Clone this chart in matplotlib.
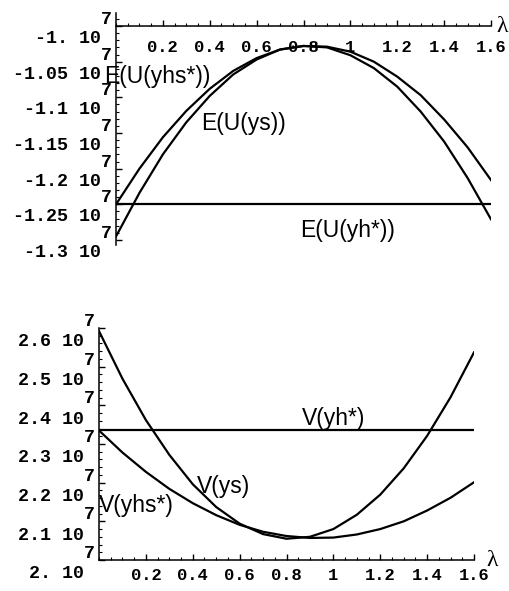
import numpy as np
import matplotlib.pyplot as plt
from matplotlib.ticker import MultipleLocator

# lambda grid shared by both panels
lam = [0.0, 0.1, 0.2, 0.3, 0.4, 0.5, 0.6, 0.7, 0.8,
       0.9, 1.0, 1.1, 1.2, 1.3, 1.4, 1.5, 1.6]

# expected utility, in units of 10^7
eu_ys = [-1.295, -1.234, -1.180, -1.135, -1.098, -1.068, -1.047, -1.033, -1.028,
         -1.030, -1.041, -1.059, -1.085, -1.120, -1.162, -1.213, -1.271]
eu_yhs_star = [-1.250, -1.200, -1.156, -1.119, -1.088, -1.063, -1.045, -1.033, -1.028,
               -1.029, -1.036, -1.050, -1.071, -1.097, -1.131, -1.170, -1.216]
eu_yh_star = -1.25

# variance, in units of 10^7
v_ys = [2.592, 2.469, 2.362, 2.272, 2.196, 2.137, 2.094, 2.067, 2.055,
        2.060, 2.080, 2.117, 2.169, 2.237, 2.321, 2.421, 2.537]
v_yhs_star = [2.335, 2.278, 2.228, 2.184, 2.147, 2.116, 2.091, 2.073, 2.062,
              2.057, 2.058, 2.066, 2.080, 2.100, 2.128, 2.161, 2.201]
v_yh_star = 2.335

x_ticks = [0.2, 0.4, 0.6, 0.8, 1.0, 1.2, 1.4, 1.6]
x_ticklabels = ["0.2", "0.4", "0.6", "0.8", "1", "1.2", "1.4", "1.6"]
eu_ticks = [-1.0, -1.05, -1.1, -1.15, -1.2, -1.25, -1.3]
eu_mant = ["-1.", "-1.05", "-1.1", "-1.15", "-1.2", "-1.25", "-1.3"]
v_ticks = [2.0, 2.1, 2.2, 2.3, 2.4, 2.5, 2.6]
v_mant = ["2.", "2.1", "2.2", "2.3", "2.4", "2.5", "2.6"]

W, H = 509, 591
mono_x = dict(family="Liberation Mono", weight="bold", size=12.3)
mono_y = dict(family="Liberation Mono", weight="bold", size=13.2)
sans = dict(family="Liberation Sans", size=16.5)
lw = 1.6


def exp_label(m):
    # exponent written on the line above, like plain-text output
    main = m + " 10"
    return " " * len(main) + "7\n" + main


def style(ax, yt, ymant, xpad, ls):
    for s in ("top", "right"):
        ax.spines[s].set_visible(False)
    for s in ("left", "bottom"):
        ax.spines[s].set_linewidth(1.1)
    ax.set_xlim(0, 1.6)
    ax.set_xticks(x_ticks)
    ax.set_xticklabels(x_ticklabels, **mono_x)
    ax.set_yticks(yt)
    ax.set_yticklabels([exp_label(m) for m in ymant], multialignment="left",
                       linespacing=ls, **mono_y)
    ax.xaxis.set_minor_locator(MultipleLocator(0.05))
    ax.tick_params(direction="in", length=4, width=1, colors="black")
    ax.tick_params(which="minor", direction="in", length=2, width=0.8)
    ax.tick_params(axis="x", pad=xpad)
    ax.tick_params(axis="y", pad=3)


fig = plt.figure(figsize=(W / 100, H / 100), dpi=100)

# upper panel: expected utility, x axis drawn at -1e7
ax1 = fig.add_axes([116 / W, 1 - 245 / H, 375 / W, 232 / H])
ax1.spines["bottom"].set_position(("data", -1.0))
ax1.plot(lam, eu_ys, color="black", lw=lw)
ax1.plot(lam, eu_yhs_star, color="black", lw=lw)
ax1.plot(lam, np.full(len(lam), eu_yh_star), color="black", lw=lw)
ax1.set_ylim(-1.307, -0.9818)
style(ax1, eu_ticks, eu_mant, 10, 1.15)
ax1.yaxis.set_minor_locator(MultipleLocator(0.01))
ax1.text(0.177, -1.0714, "E(U(yhs*))", ha="center", va="center", **sans)
ax1.text(0.544, -1.137, "E(U(ys))", ha="center", va="center", **sans)
ax1.text(0.988, -1.286, "E(U(yh*))", ha="center", va="center", **sans)

# lower panel: variance
ax2 = fig.add_axes([99 / W, 1 - 560 / H, 375 / W, 232 / H])
ax2.plot(lam, v_ys, color="black", lw=lw)
ax2.plot(lam, v_yhs_star, color="black", lw=lw)
ax2.plot(lam, np.full(len(lam), v_yh_star), color="black", lw=lw)
ax2.set_ylim(2.0, 2.6)
style(ax2, v_ticks, v_mant, 6, 1.25)
ax2.yaxis.set_minor_locator(MultipleLocator(0.02))
ax2.text(1.003, 2.367, "V(yh*)", ha="center", va="center", **sans)
ax2.text(0.533, 2.189, "V(ys)", ha="center", va="center", **sans)
ax2.text(0.16, 2.142, "V(yhs*)", ha="center", va="center", **sans)

# axis names
lam_font = dict(family="Liberation Serif", size=17)
fig.text(502 / W, 1 - 27 / H, "λ", ha="center", va="center", **lam_font)
fig.text(492 / W, 1 - 561 / H, "λ", ha="center", va="center", **lam_font)

fig.savefig("out.png", dpi=100)
